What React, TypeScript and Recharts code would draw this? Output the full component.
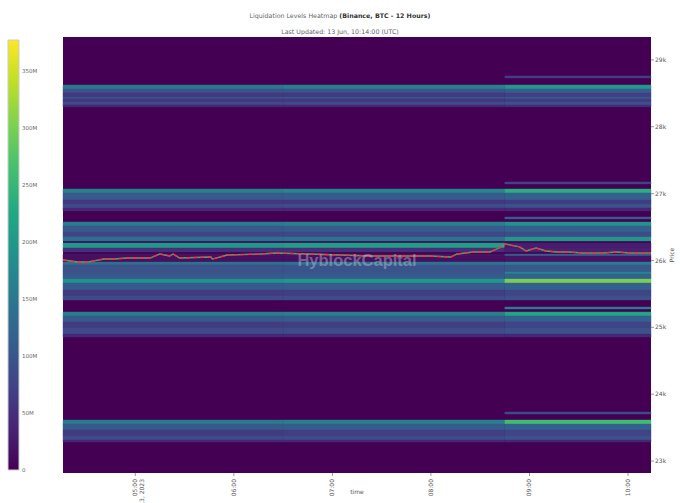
import React from "react";
import {
  ComposedChart,
  BarChart,
  Bar,
  Line,
  XAxis,
  YAxis,
  ReferenceArea,
} from "recharts";

// time columns of the heatmap (minutes since midnight, 13 Jun 2023)
const columnEdges = [256, 390, 525, 614];
const timeTicks = [300, 360, 420, 480, 540, 600];
const priceTicks = [23000, 24000, 25000, 26000, 27000, 28000, 29000];
const colorTicks = [0, 50, 100, 150, 200, 250, 300, 350];

// liquidation bands (price range) and their size in M per time column
const bandLow = [
  28731, 28566, 28506, 28446, 28416, 28372, 28327, 28297,
  27145, 27010, 26905, 26845, 26785, 26741,
  26621, 26516, 26426, 26352, 26292, 26187, 26127, 26067, 25977,
  25933, 25828, 25798, 25723, 25663, 25558, 25469, 25409,
  25274, 25170, 25080, 24990, 24900, 24855,
  23703, 23553, 23464, 23374, 23314, 23284,
];
const bandHigh = [
  28761, 28626, 28566, 28506, 28446, 28416, 28372, 28327,
  27175, 27070, 27010, 26905, 26845, 26785,
  26651, 26576, 26516, 26426, 26352, 26262, 26187, 26097, 26067,
  25977, 25933, 25828, 25798, 25723, 25663, 25558, 25469,
  25304, 25230, 25170, 25080, 24990, 24900,
  23733, 23613, 23553, 23464, 23374, 23314,
];
const liqEarly = [
  0, 150, 95, 60, 95, 60, 85, 40,
  0, 165, 105, 60, 85, 40,
  0, 160, 105, 75, 140, 200, 50, 20, 15,
  140, 95, 100, 105, 190, 105, 65, 85,
  0, 160, 105, 65, 85, 40,
  0, 155, 105, 65, 85, 40,
];
const liqMid = [
  0, 165, 100, 62, 98, 60, 88, 40,
  0, 175, 108, 60, 88, 40,
  0, 165, 108, 78, 145, 210, 50, 20, 15,
  145, 98, 100, 108, 200, 108, 68, 88,
  0, 165, 108, 68, 88, 40,
  0, 165, 108, 68, 88, 40,
];
const liqLate = [
  70, 200, 110, 70, 105, 65, 95, 45,
  75, 235, 115, 65, 95, 40,
  110, 190, 115, 85, 200, 30, 35, 110, 20,
  160, 105, 175, 115, 300, 115, 75, 95,
  160, 220, 115, 75, 95, 40,
  85, 260, 115, 75, 95, 40,
];

// BTC price line
const priceTimes = [
  256, 265, 271, 274, 281, 287, 295, 309, 315, 321, 323, 327, 346, 347, 356,
  376, 386, 406, 425, 443, 461, 479, 492, 496, 506, 516, 520, 523, 525, 528,
  534, 538, 544, 550, 557, 564, 572, 585, 593, 601, 611, 614,
];
const priceValues = [
  26007, 25977, 25977, 25992, 26022, 26022, 26037, 26037, 26097, 26067, 26097,
  26037, 26052, 26022, 26082, 26097, 26112, 26097, 26082, 26067, 26067, 26067,
  26052, 26097, 26127, 26127, 26172, 26202, 26247, 26232, 26202, 26142, 26187,
  26142, 26127, 26127, 26112, 26112, 26127, 26112, 26112, 26112,
];

const viridis = [
  "#440154", "#482475", "#414487", "#355f8d", "#2a788e", "#21918c",
  "#22a884", "#44bf70", "#7ad151", "#bddf26", "#fde725",
];
const MAX_LIQ = 377;

const hex = (c: string) => [1, 3, 5].map((i) => parseInt(c.slice(i, i + 2), 16));
const colorOf = (v: number) => {
  const f = Math.max(0, Math.min(1, v / MAX_LIQ)) * (viridis.length - 1);
  const i = Math.min(Math.floor(f), viridis.length - 2);
  const t = f - i;
  const a = hex(viridis[i]);
  const b = hex(viridis[i + 1]);
  const m = a.map((x, k) => Math.round(x + (b[k] - x) * t));
  return `rgb(${m[0]},${m[1]},${m[2]})`;
};

const priceData = priceTimes.map((t, i) => ({ t, price: priceValues[i] }));
const columns = [liqEarly, liqMid, liqLate];
const colorBarData = [{ name: "liq", max: MAX_LIQ }];

const font = "'DejaVu Sans', Verdana, sans-serif";

const TimeTick = (props: any) => {
  const { x, y, payload } = props;
  const hh = String(Math.floor(payload.value / 60)).padStart(2, "0");
  return (
    <g transform={`translate(${x},${y})`}>
      <text transform="rotate(-90)" textAnchor="end" x={-1} y={2} fontSize={6} fill="#555" fontFamily={font}>
        {hh}:00
      </text>
      {payload.value === timeTicks[0] && (
        <text transform="rotate(-90)" textAnchor="end" x={-1} y={9} fontSize={6} fill="#555" fontFamily={font}>
          Jun 13, 2023
        </text>
      )}
    </g>
  );
};

export default function App() {
  return (
    <div style={{ position: "absolute", left: 0, top: 0, width: 680, height: 503, background: "#fff", fontFamily: font }}>
      <div style={{ position: "absolute", top: 12, left: 0, width: 680, textAlign: "center", fontSize: 6.3, color: "#666" }}>
        Liquidation Levels Heatmap <b style={{ color: "#333" }}>(Binance, BTC - 12 Hours)</b>
      </div>
      <div style={{ position: "absolute", top: 28, left: 0, width: 680, textAlign: "center", fontSize: 6.3, color: "#666" }}>
        Last Updated: 13 Jun, 10:14:00 (UTC)
      </div>

      <div style={{ position: "absolute", left: 0, top: 0 }}>
        <ComposedChart width={680} height={503} data={priceData} margin={{ top: 37, right: 0, bottom: 0, left: 63 }}>
          <XAxis
            dataKey="t"
            type="number"
            domain={[256, 614]}
            ticks={timeTicks}
            allowDataOverflow
            height={30}
            axisLine={false}
            tickSize={3}
            tickLine={{ stroke: "#999" }}
            tick={<TimeTick />}
            label={{ value: "time", position: "insideBottom", offset: 9, style: { fontSize: 6, fill: "#555", fontFamily: font } }}
          />
          <YAxis
            orientation="right"
            type="number"
            domain={[22821, 29343]}
            ticks={priceTicks}
            allowDataOverflow
            width={29}
            axisLine={false}
            tickSize={3}
            tickMargin={1}
            tickLine={{ stroke: "#999" }}
            tick={{ fontSize: 6, fill: "#555", fontFamily: font }}
            tickFormatter={(v: number) => `${v / 1000}k`}
            label={{ value: "Price", angle: -90, position: "center", dx: 6, style: { fontSize: 6, fill: "#555", fontFamily: font } }}
          />
          <ReferenceArea x1={256} x2={614} y1={22821} y2={29343} fill={viridis[0]} fillOpacity={1} stroke="none" />
          {columns.map((col, c) =>
            bandLow.map((low, i) =>
              col[i] > 0 ? (
                <ReferenceArea
                  key={`${c}-${i}`}
                  x1={columnEdges[c]}
                  x2={columnEdges[c + 1]}
                  y1={low}
                  y2={bandHigh[i]}
                  fill={colorOf(col[i])}
                  fillOpacity={1}
                  stroke={colorOf(col[i])}
                  strokeWidth={0.4}
                />
              ) : null
            )
          )}
          <Line type="linear" dataKey="price" stroke="#2fbf71" strokeWidth={1.3} dot={false} isAnimationActive={false} />
          <Line type="linear" dataKey="price" stroke="#ff2a3a" strokeWidth={1.3} strokeDasharray="5 2" dot={false} isAnimationActive={false} />
        </ComposedChart>
      </div>

      <div
        style={{
          position: "absolute", left: 63, width: 588, top: 251, textAlign: "center",
          fontFamily: "'Liberation Sans', Arial, sans-serif", fontWeight: "bold", fontSize: 16.5,
          color: "rgba(200,200,215,0.42)", pointerEvents: "none",
        }}
      >
        HyblockCapital
      </div>

      <div style={{ position: "absolute", left: 0, top: 0 }}>
        <BarChart width={60} height={503} data={colorBarData} margin={{ top: 40, right: 0, bottom: 33, left: 8 }} barCategoryGap={0}>
          <defs>
            <linearGradient id="viridisBar" x1="0" y1="1" x2="0" y2="0">
              {viridis.map((c, i) => (
                <stop key={c} offset={i / (viridis.length - 1)} stopColor={c} />
              ))}
            </linearGradient>
          </defs>
          <XAxis dataKey="name" hide />
          <YAxis
            orientation="right"
            type="number"
            domain={[0, MAX_LIQ]}
            ticks={colorTicks}
            width={41}
            axisLine={false}
            tickLine={false}
            tickSize={0}
            tickMargin={3}
            tick={{ fontSize: 5.5, fill: "#666", fontFamily: font }}
            tickFormatter={(v: number) => (v === 0 ? "0" : `${v}M`)}
          />
          <Bar dataKey="max" fill="url(#viridisBar)" stroke="#ccc" strokeWidth={1} isAnimationActive={false} />
        </BarChart>
      </div>
    </div>
  );
}
